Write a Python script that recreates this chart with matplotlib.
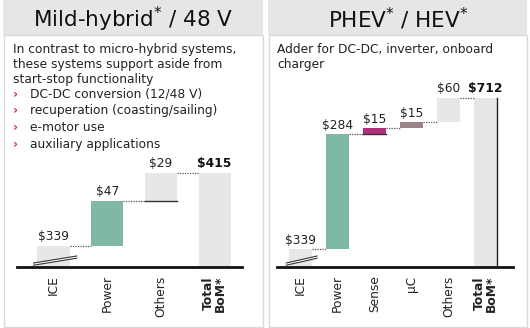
import matplotlib
matplotlib.use("Agg")
import matplotlib.pyplot as plt
from matplotlib.patches import Rectangle, Polygon

# ---------------- data ----------------
left_categories = ["ICE", "Power", "Others", "Total\nBoM*"]
left_values = [339, 47, 29]
left_total = 415
left_colors = ["#e8e6e6", "#80b8a6", "#e8e6e6"]

right_categories = ["ICE", "Power", "Sense", "µC", "Others", "Total\nBoM*"]
right_values = [339, 284, 15, 15, 60]
right_total = 712
right_colors = ["#e8e6e6", "#80b8a6", "#b0317a", "#9b8486", "#e8e6e6"]

left_title = "Mild-hybrid$^{*}$ / 48 V"
right_title = "PHEV$^{*}$ / HEV$^{*}$"
left_intro = ["In contrast to micro-hybrid systems,",
              "these systems support aside from",
              "start-stop functionality"]
left_bullets = ["DC-DC conversion (12/48 V)",
                "recuperation (coasting/sailing)",
                "e-motor use",
                "auxiliary applications"]
right_intro = ["Adder for DC-DC, inverter, onboard", "charger"]

W, H = 530, 328
fig = plt.figure(figsize=(W / 100, H / 100), dpi=100)
fig.patch.set_facecolor("white")

FS = 8.8


def fx(x):
    return x / W


def fy(y):
    return 1 - y / H


def rect(x0, y0, x1, y1, **kw):
    fig.patches.append(Rectangle((fx(x0), fy(y1)), (x1 - x0) / W, (y1 - y0) / H,
                                 transform=fig.transFigure, zorder=-5, **kw))


# panels
for (x0, x1) in [(3, 263), (268, 527)]:
    rect(x0, 0, x1, 35, facecolor="#e6e6e6", edgecolor="none")
    rect(x0 + 0.5, 35, x1 - 0.5, 326.5, facecolor="white", edgecolor="#d9d9d9", lw=1)

fig.text(fx(133), fy(19), left_title, ha="center", va="center", fontsize=15.5, color="#111111")
fig.text(fx(398), fy(19), right_title, ha="center", va="center", fontsize=15.5, color="#111111")

for i, line in enumerate(left_intro):
    fig.text(fx(13), fy(50 + i * 14.5), line, ha="left", va="center", fontsize=FS, color="#222222")
for i, line in enumerate(left_bullets):
    y = fy(94 + i * 16.7)
    fig.text(fx(13), y, "›", ha="left", va="center", fontsize=9, color="#c8324f", fontweight="bold")
    fig.text(fx(30), y, line, ha="left", va="center", fontsize=FS, color="#222222")
for i, line in enumerate(right_intro):
    fig.text(fx(277), fy(50 + i * 14.5), line, ha="left", va="center", fontsize=FS, color="#222222")


def waterfall(ax_px, xlim, ylim_top, cats, values, total, colors, break_h, width,
              label_dy, bottom_line_idx=(), right_edge_total=False):
    x0, y0, x1, y1 = ax_px
    ax = fig.add_axes([fx(x0), fy(y1), (x1 - x0) / W, (y1 - y0) / H])
    ax.set_xlim(*xlim)
    ax.set_ylim(0, ylim_top)
    ax.patch.set_alpha(0)
    for s in ax.spines.values():
        s.set_visible(False)
    ax.set_yticks([])
    n = len(values)
    # displayed heights: first (ICE) is broken
    disp = [break_h] + values[1:]
    bottoms = []
    cum = 0
    for d in disp:
        bottoms.append(cum)
        cum += d
    disp_total = cum
    xs = list(range(n + 1))
    ax.bar(xs[:n], disp, bottom=bottoms, width=width, color=colors, edgecolor="none", zorder=2)
    ax.bar(xs[n], disp_total, width=width, color="#e8e6e6", edgecolor="none", zorder=2)
    # connectors
    for i in range(n):
        top = bottoms[i] + disp[i]
        ax.plot([xs[i] + width / 2, xs[i + 1] - width / 2], [top, top], ls=(0, (1, 1)),
                color="#555555", lw=0.9, zorder=3)
    # labels
    for i in range(n):
        top = bottoms[i] + disp[i]
        ax.text(xs[i], top + label_dy, r"\$" + str(values[i]), ha="center", va="bottom",
                fontsize=FS, color="#222222")
    ax.text(xs[n], disp_total + label_dy, r"\$" + str(total), ha="center", va="bottom",
            fontsize=FS, color="#111111", fontweight="bold")
    for i in bottom_line_idx:
        ax.plot([xs[i] - width / 2, xs[i] + width / 2], [bottoms[i], bottoms[i]],
                color="#333333", lw=1.0, zorder=3)
    if right_edge_total:
        ax.plot([xs[n] + width / 2] * 2, [0, disp_total], color="#222222", lw=1.0, zorder=3)
    # baseline
    ax.axhline(0, color="#111111", lw=2.0, zorder=4, clip_on=False)
    # axis break marks on ICE bar
    pxy = ylim_top / (y1 - y0)
    xa, xb = xs[0] - width * 0.62, xs[0] + width * 0.72
    yl0, yl1 = 4 * pxy, 11 * pxy
    gap = 2.2 * pxy
    poly = Polygon([[xa, yl0], [xb, yl1], [xb, yl1 - gap], [xa, yl0 - gap]], closed=True,
                   facecolor="white", edgecolor="none", zorder=5, clip_on=False)
    ax.add_patch(poly)
    ax.plot([xa, xb], [yl0, yl1], color="#333333", lw=0.8, zorder=6, clip_on=False)
    ax.plot([xa, xb], [yl0 - gap, yl1 - gap], color="#333333", lw=0.8, zorder=6, clip_on=False)
    # tick labels
    ax.set_xticks(xs)
    labels = ax.set_xticklabels(cats, rotation=90, fontsize=FS, color="#222222")
    ax.tick_params(axis="x", length=0, pad=6)
    labels[-1].set_fontweight("bold")
    labels[-1].set_linespacing(0.95)
    return ax


waterfall((17, 150, 242, 267), (-0.68, 3.51), 122, left_categories, left_values, left_total,
          left_colors, 22, 0.6, 3, bottom_line_idx=(2,))
waterfall((277, 80, 513, 267), (-0.635, 5.74), 462, right_categories, right_values, right_total,
          right_colors, 44, 0.62, 6, bottom_line_idx=(2,), right_edge_total=True)

fig.savefig("out.png", dpi=100)
